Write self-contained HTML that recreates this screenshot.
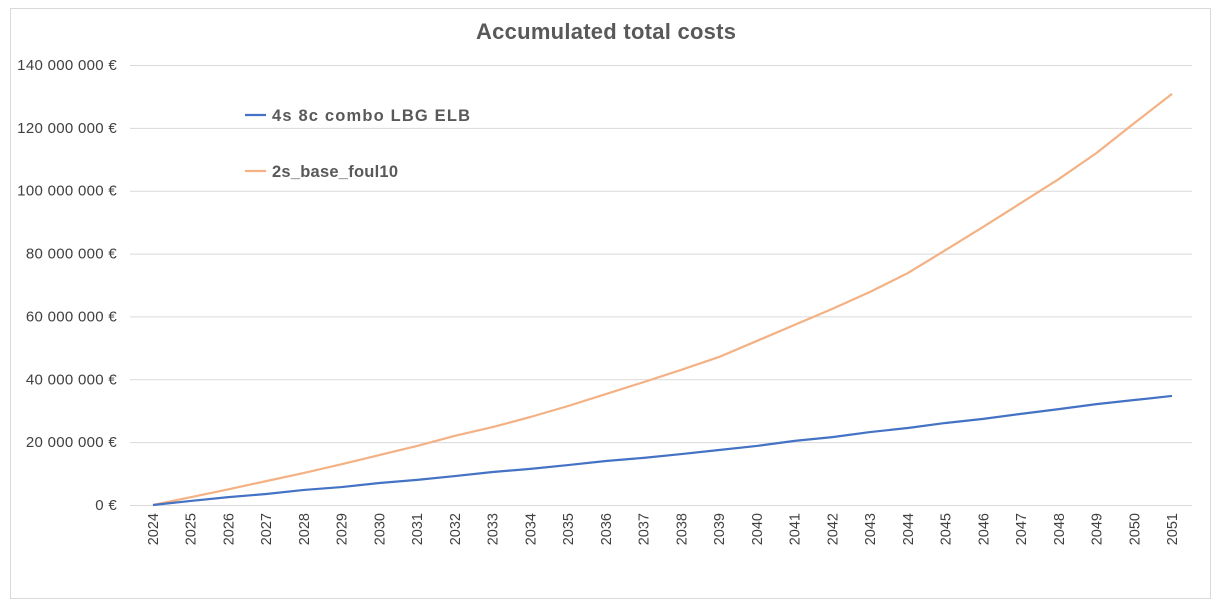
<!DOCTYPE html>
<html><head><meta charset="utf-8"><style>
body{margin:0;background:#fff;}
svg text{font-family:"Liberation Sans",sans-serif;}
</style></head><body>
<svg id="c" width="1220" height="608" xmlns="http://www.w3.org/2000/svg">
<rect x="10.5" y="8.5" width="1200" height="590" fill="#fff" stroke="#d9d9d9"/>
<text x="606" y="39" text-anchor="middle" font-size="22" font-weight="bold" fill="#595959" textLength="260">Accumulated total costs</text>
<g id="grid"></g><g id="lines"></g><g id="xl"></g><g id="yl"></g>
<g>
<line x1="245" y1="115" x2="266" y2="115" stroke="#4472c4" stroke-width="2.2"/>
<text x="272" y="121" font-size="16.5" font-weight="bold" fill="#595959" textLength="198">4s 8c combo LBG ELB</text>
<line x1="245" y1="171" x2="266" y2="171" stroke="#f4b183" stroke-width="2.2"/>
<text x="272" y="177" font-size="16.5" font-weight="bold" fill="#595959" textLength="126">2s_base_foul10</text>
</g>
</svg>
<script>
const years=[2024,2025,2026,2027,2028,2029,2030,2031,2032,2033,2034,2035,2036,2037,2038,2039,2040,2041,2042,2043,2044,2045,2046,2047,2048,2049,2050,2051];
const seriesBlue=[0,1.3,2.5,3.5,4.8,5.7,7,8,9.2,10.5,11.5,12.7,14,15,16.2,17.5,18.8,20.4,21.6,23.2,24.5,26.1,27.4,29,30.5,32.1,33.4,34.7];
const seriesOrange=[0,2.5,5,7.6,10.2,13,15.9,18.8,22,24.8,28,31.5,35.3,39.1,43,47.1,52.2,57.3,62.4,67.8,73.8,81.1,88.5,96.1,103.7,112,121.5,130.8];
const yTicks=[0,20,40,60,80,100,120,140];
const yTickLabels=["0 €","20 000 000 €","40 000 000 €","60 000 000 €","80 000 000 €","100 000 000 €","120 000 000 €","140 000 000 €"];
const NS="http://www.w3.org/2000/svg";
const x0=153,x1=1172,yb=505,yt=65;
function xs(i){return x0+(x1-x0)*i/(years.length-1);}
function ys(v){return yb-(yb-yt)*v/140;}
function mk(t,a,p){const e=document.createElementNS(NS,t);for(const k in a)e.setAttribute(k,a[k]);document.getElementById(p).appendChild(e);return e;}
yTicks.forEach((v,i)=>{
 const g=mk('line',{x1:130,x2:1192,y1:ys(v)+0.5,y2:ys(v)+0.5,stroke:'#d9d9d9','stroke-width':1},'grid');
 
 
 const t=mk('text',{x:117,y:ys(v)+5,'text-anchor':'end','font-size':15,'letter-spacing':0.3,fill:'#404040'},'yl');
 t.textContent=yTickLabels[i];
 
 
});
years.forEach((yr,i)=>{
 const t=mk('text',{x:0,y:0,'text-anchor':'end','font-size':14.5,fill:'#404040',transform:`translate(${xs(i)+5},${513}) rotate(-90)`},'xl');
 t.textContent=yr;
 
 
});
function line(data,col,name){
 const p=mk('polyline',{points:data.map((v,i)=>xs(i)+','+ys(v)).join(' '),fill:'none',stroke:col,'stroke-width':2.2,'stroke-linejoin':'round'},'lines');
 
 
}
line(seriesOrange,'#f4b183','line-2s-base-foul10');
line(seriesBlue,'#4472c4','line-4s-8c-combo');
</script>
</body></html>
